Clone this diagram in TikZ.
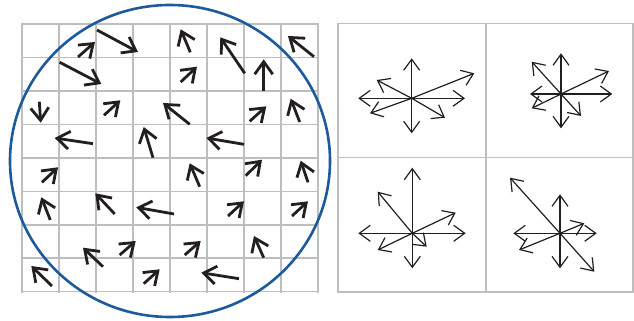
\documentclass[tikz,border=0pt]{standalone}
\usetikzlibrary{arrows.meta}
\definecolor{ink}{HTML}{231F20}
\definecolor{gridgray}{HTML}{BCBEC0}
\definecolor{ringblue}{HTML}{1D5A9C}
\begin{document}
\begin{tikzpicture}[x=1pt,y=-1pt,
  gridline/.style={draw=gridgray,line width=1.6pt,line cap=rect},
  vec/.style={draw=ink,line width=2.8pt,-{Straight Barb[length=12.5pt,width=18pt]}},
  starvec/.style={draw=ink,line width=1.2pt,-{Straight Barb[length=11pt,width=16pt]}},
  ring/.style={draw=ringblue,line width=2.6pt},
  panel/.style={draw=gridgray,line width=1.5pt}]
\useasboundingbox (0,0) rectangle (634,321);
% grid
\foreach \i in {0,...,8} {\draw[gridline] ({22+37*\i},24) -- ({22+37*\i},291.7);}
\foreach \j in {0,...,8} {\draw[gridline] (22,{24+33.46*\j}) -- (318,{24+33.46*\j});}
% vectors in the grid
\foreach \ax/\ay/\bx/\by in {
  78/57/95/42, 97/30/138/52, 190.3/52.3/180.7/29.3, 244.7/73.3/220.3/37.3, 314/56.7/288/36,
  59.7/62.3/101.3/84, 180.7/82/197/66.7, 263.7/90.7/263.7/59.3,
  39.3/101.7/40.7/122.7, 104/115.3/120.3/100.3, 189.7/124.3/163/103, 249.7/121.3/266.3/106.3, 299.7/122/290.7/98.7,
  93/143.7/54.7/138, 153/157.7/143.7/127, 244/144.3/206.3/138,
  42/182.3/58/167.3, 199.7/186.7/189.7/163.3, 245.7/175.7/262/159.7, 308/182.3/300.7/160.7,
  50.3/220/41.3/197.3, 114.7/214/95.3/193.3, 174/214/136.3/207.3, 228/216/244/201.3, 292/216/308/201.3,
  103/266.7/83/247.7, 119.7/255/135.7/241, 184.7/255/200.7/241, 263.7/257.7/254/236,
  52/286/31.3/266, 143.7/283.7/159.7/269.3, 239/278.7/201.3/272.7}
  {\draw[vec] (\ax,\ay) -- (\bx,\by);}
% circle
\draw[ring] (170,161) ellipse [x radius=160, y radius=156];
% right panels
\draw[panel] (338,23.5) rectangle (633,292);
\draw[panel] (486,23.5) -- (486,292);
\draw[panel] (338,157.7) -- (633,157.7);
\coordinate (c1) at (411.7,98.3);
\coordinate (c2) at (561,94);
\coordinate (c3) at (412.3,233.3);
\coordinate (c4) at (560,233.3);
\foreach \dx/\dy in {0/-40, 0/35, -53.4/0, 53.3/0, 62.6/-25, -35/-18.3, -41.7/15, 33.3/19.4}
  {\draw[starvec] (c1) -- ++(\dx,\dy);}
\foreach \dx/\dy in {0/-40.7, 0/34.3, 51.3/0, 48/-23, -29.3/-32.3, -31/0, -29.3/14.3, 20/22}
  {\draw[starvec] (c2) -- ++(\dx,\dy);}
\foreach \dx/\dy in {0/-65.6, 0/35, -54/0, 53.4/0, -34.6/-41.6, 43.4/-20.6, -34.6/16.7, 14.4/13.4}
  {\draw[starvec] (c3) -- ++(\dx,\dy);}
\foreach \dx/\dy in {0/-39, 0/35, -46.7/0, 36.7/0, -50/-55.6, 34.3/38.4, 24.3/-10, -41/16.7}
  {\draw[starvec] (c4) -- ++(\dx,\dy);}
\end{tikzpicture}
\end{document}
